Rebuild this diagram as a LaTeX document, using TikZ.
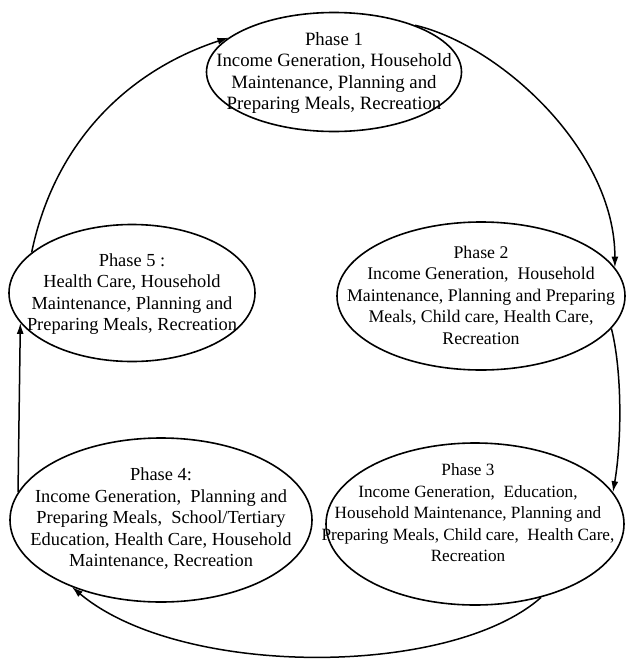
\documentclass[tikz,border=0pt]{standalone}
\usepackage{fontspec}
\setmainfont{Liberation Serif}
\usetikzlibrary{shapes.geometric,arrows.meta}
\tikzset{
  phase/.style={draw, shape=ellipse, line width=1.6pt, inner sep=0pt},
  phasetext/.style={align=center, inner sep=0pt},
  flow/.style={line width=1.5pt, -{Latex[length=11pt,width=7pt]}}
}
\begin{document}
\begin{tikzpicture}[x=1pt,y=-1pt]
\useasboundingbox (0,0) rectangle (625,659);
% ellipses
\node[phase, minimum width=255pt, minimum height=119pt] (p1) at (334,72) {};
\node[phase, minimum width=288pt, minimum height=148pt] (p2) at (481,296) {};
\node[phase, minimum width=298pt, minimum height=162pt] (p3) at (475,524) {};
\node[phase, minimum width=302pt, minimum height=164pt] (p4) at (161,520) {};
\node[phase, minimum width=246pt, minimum height=137pt] (p5) at (132,293) {};
% texts
\node[phasetext, font=\fontsize{18.8}{21.5}\selectfont] (t1) at (334,73)
  {Phase 1\\Income Generation, Household\\Maintenance, Planning and\\Preparing Meals, Recreation};
\node[phasetext, font=\fontsize{17.8}{21.5}\selectfont] (t2) at (481,295)
  {Phase 2\\Income Generation,\ \ Household\\Maintenance, Planning and Preparing\\Meals, Child care, Health Care,\\Recreation};
\node[phasetext, font=\fontsize{17.2}{21.5}\selectfont] (t3) at (468,513)
  {Phase 3\\Income Generation,\ \ Education,\\Household Maintenance, Planning and\\Preparing Meals, Child care,\ \ Health Care,\\Recreation};
\node[phasetext, font=\fontsize{18.4}{21.5}\selectfont] (t4) at (161,519)
  {Phase 4:\\Income Generation,\ \ Planning and\\Preparing Meals,\ \ School/Tertiary\\Education, Health Care, Household\\Maintenance, Recreation};
\node[phasetext, font=\fontsize{18.4}{21.5}\selectfont] (t5) at (132,294)
  {Phase 5 :\\Health Care, Household\\Maintenance, Planning and\\Preparing Meals, Recreation};
% connectors
\draw[flow] (p5.158.6) .. controls (55,140) and (130,70) .. (p1.162.9);
\draw[flow] (p1.30.7) .. controls (500,45) and (615,150) .. (p2.12);
\draw[flow] (p2.-14.5) .. controls (622,370) and (622,440) .. (p3.13.7);
\draw[flow] (p3.-48.7) .. controls (450,678) and (180,678) .. (p4.-143.6);
\draw[flow] (p4.169) -- (p5.195.7);
\end{tikzpicture}
\end{document}
